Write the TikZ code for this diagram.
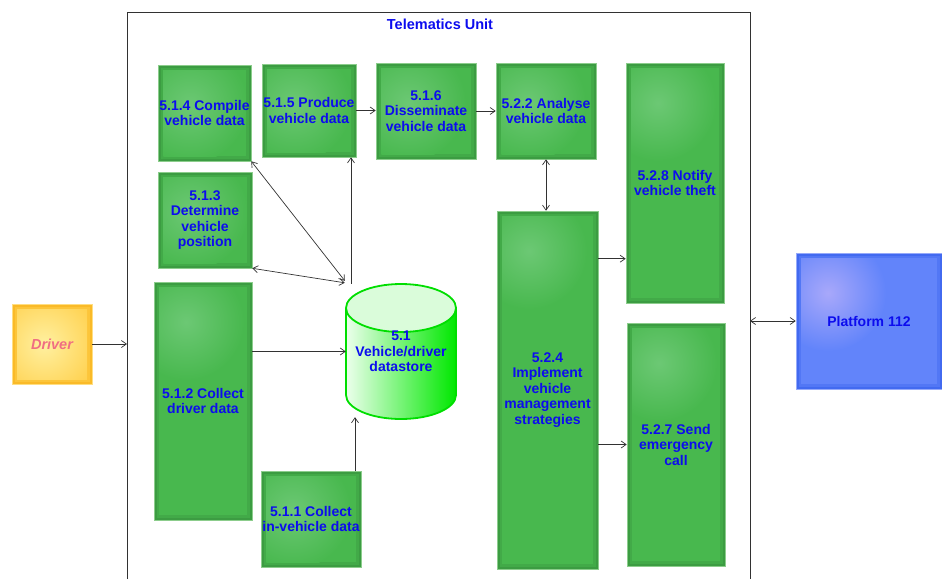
\documentclass[tikz,border=0pt]{standalone}
\usepackage{fontspec}
\setmainfont{Liberation Sans}
\usetikzlibrary{arrows.meta}

% palette
\definecolor{gEdge}{RGB}{140,205,140}
\definecolor{gDark}{RGB}{60,156,66}
\definecolor{gBase}{RGB}{72,184,78}
\definecolor{gLight}{RGB}{108,200,116}
\definecolor{yEdge}{RGB}{255,222,130}
\definecolor{yDark}{RGB}{250,186,40}
\definecolor{yBase}{RGB}{255,208,76}
\definecolor{yLight}{RGB}{255,240,160}
\definecolor{bEdge}{RGB}{150,170,250}
\definecolor{bDark}{RGB}{66,106,240}
\definecolor{bBase}{RGB}{98,132,250}
\definecolor{bLight}{RGB}{168,168,250}
\definecolor{txtBlue}{RGB}{12,12,238}
\definecolor{txtPink}{RGB}{240,110,130}
\definecolor{lineC}{RGB}{50,50,50}
\definecolor{dsLine}{RGB}{0,222,0}
\definecolor{dsLeft}{RGB}{236,255,236}
\definecolor{dsRight}{RGB}{0,232,0}
\definecolor{dsTop}{RGB}{218,252,218}

\tikzset{
  % soft raised box: #1 outline, #2 dark rim, #3 body, #4 highlight
  softbox/.style n args={4}{
    draw=#1, line width=0.6pt, fill=#3, inner sep=0pt,
    path picture={
      \fill[#2] (path picture bounding box.south west) rectangle (path picture bounding box.north east);
      \fill[#2!50!#3] ([shift={(2.5pt,2.5pt)}]path picture bounding box.south west)
        rectangle ([shift={(-2.5pt,-2.5pt)}]path picture bounding box.north east);
      \fill[#3] ([shift={(5pt,5pt)}]path picture bounding box.south west)
        coordinate (pp-sw) rectangle ([shift={(-5pt,-5pt)}]path picture bounding box.north east)
        coordinate (pp-ne);
      \begin{scope}
        \clip (pp-sw) rectangle (pp-ne);
        \shade[inner color=#4, outer color=#3]
          ([shift={(32pt,-40pt)}]path picture bounding box.north west) circle (58pt);
      \end{scope}
    }},
  gbox/.style={softbox={gEdge}{gDark}{gBase}{gLight},
    font=\bfseries\fontsize{14}{15.5}\selectfont, text=txtBlue, align=center},
  sz/.style 2 args={minimum width=#1pt, minimum height=#2pt},
  arr/.style={draw=lineC, line width=0.7pt, -{Straight Barb[length=5pt,width=7pt]}},
  darr/.style={draw=lineC, line width=0.7pt,
    {Straight Barb[length=5pt,width=7pt]}-{Straight Barb[length=5pt,width=7pt]}},
}

\begin{document}
\begin{tikzpicture}[x=1pt,y=-1pt]
\useasboundingbox (0,0) rectangle (942,579);

% Telematics Unit boundary (open at the bottom)
\draw[lineC, line width=0.9pt] (127,579) -- (127,12) -- (750,12) -- (750,579);
\node[font=\bfseries\fontsize{14.5}{16}\selectfont, text=txtBlue] (title) at (440,24) {Telematics Unit};
\coordinate (tuL) at (127,344);
\coordinate (tuR) at (750,321);

% external entities
\node[softbox={yEdge}{yDark}{yBase}{yLight}, sz={80}{80},
      font=\bfseries\itshape\fontsize{14.5}{16}\selectfont, text=txtPink] (drv) at (52,344) {Driver};
\node[softbox={bEdge}{bDark}{bBase}{bLight}, sz={146}{136},
      font=\bfseries\fontsize{14}{16}\selectfont, text=txtBlue] (plat) at (869,321) {Platform 112};

% processes
\node[gbox, sz={93}{96}]  (n514) at (204.5,113) {5.1.4 Compile\\vehicle data};
\node[gbox, sz={94}{93}]  (n515) at (309,110.5) {5.1.5 Produce\\vehicle data};
\node[gbox, sz={100}{96}] (n516) at (426,111)   {5.1.6\\Disseminate\\vehicle data};
\node[gbox, sz={100}{96}] (n522) at (546,111)   {5.2.2 Analyse\\vehicle data};
\node[gbox, sz={98}{240}] (n528) at (675,183)   {5.2.8 Notify\\vehicle theft};
\node[gbox, sz={94}{96}]  (n513) at (205,220)   {5.1.3\\Determine\\vehicle\\position};
\node[gbox, sz={98}{238}] (n512) at (203,401)   {5.1.2 Collect\\driver data};
\node[gbox, sz={100}{96}] (n511) at (311,519)   {5.1.1 Collect\\in-vehicle data};
\node[gbox, sz={101}{358}] (n524) at (547.5,390) {5.2.4\\Implement\\vehicle\\management\\strategies};
\node[gbox, sz={98}{243}] (n527) at (676,444.5) {5.2.7 Send\\emergency\\call};

% datastore cylinder
\shade[left color=dsLeft, right color=dsRight]
  (346,308) -- (346,395) arc[start angle=180, end angle=360, x radius=55pt, y radius=24pt]
  -- (456,308) arc[start angle=0, end angle=180, x radius=55pt, y radius=24pt] -- cycle;
\fill[dsTop] (401,308) ellipse[x radius=55pt, y radius=24pt];
\draw[dsLine, line width=1.8pt]
  (346,308) -- (346,395) arc[start angle=180, end angle=360, x radius=55pt, y radius=24pt]
  -- (456,308) arc[start angle=0, end angle=180, x radius=55pt, y radius=24pt] -- cycle;
\draw[dsLine, line width=1.8pt] (346,308) arc[start angle=180, end angle=360, x radius=55pt, y radius=24pt];
\node[minimum width=110pt, minimum height=135pt, inner sep=0pt, align=center,
      font=\bfseries\fontsize{14}{15.5}\selectfont, text=txtBlue] (ds) at (401,351.5)
  {5.1\\Vehicle/driver\\datastore};

% flows
\draw[arr] (drv.east) -- (tuL);
\draw[arr] (n512.east |- ds.west) -- (ds.west);
\draw[arr] ([xshift=44pt]n511.north) -- ([xshift=-46pt,yshift=2pt]ds.south);
\draw[arr] ([xshift=-50pt]ds.north) coordinate (dsup) -- (dsup |- n515.south);
\draw[darr] (n514.south east) -- ([xshift=-1pt,yshift=3pt]ds.north west);
\draw[darr] (n513.south east) -- ([xshift=-1pt,yshift=1pt]ds.north west);
\draw[arr] (n515.east) -- (n515.east -| n516.west);
\draw[arr] (n516.east) -- (n516.east -| n522.west);
\draw[darr] (n522.south) -- (n522.south |- n524.north);
\draw[arr] ([yshift=-48pt]n524.north east) coordinate (nt) -- (nt -| n528.west);
\draw[arr] (n527.west -| n524.east) -- (n527.west);
\draw[darr] (tuR) -- (plat.west);
\end{tikzpicture}
\end{document}
